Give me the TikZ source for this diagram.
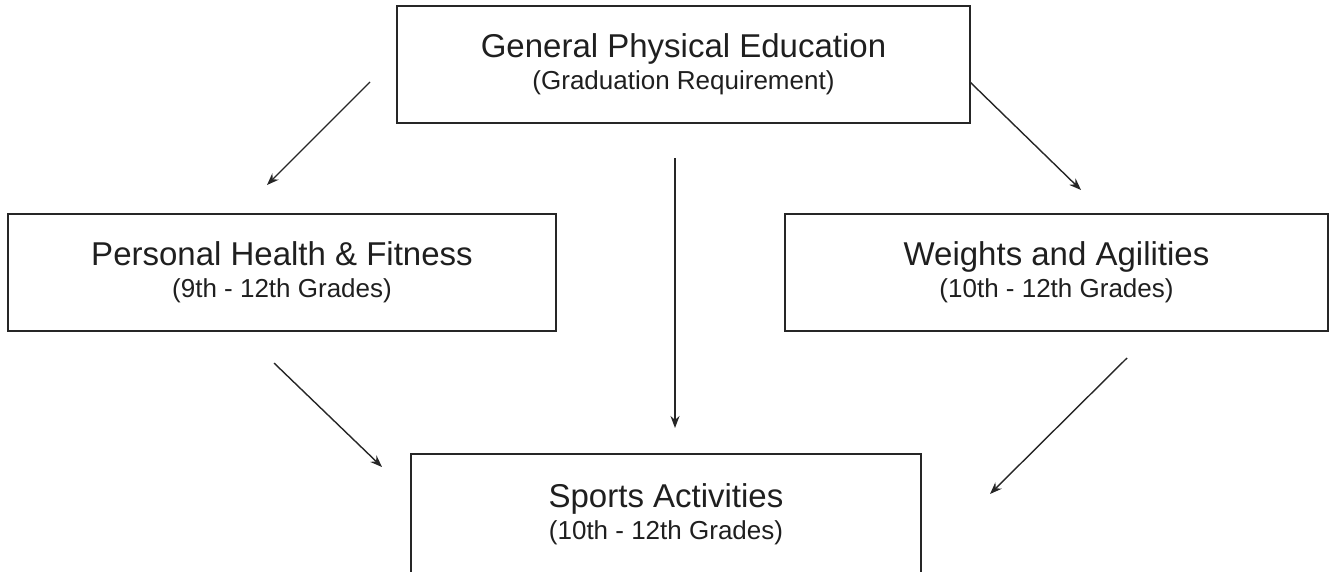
\documentclass[tikz,border=0pt]{standalone}
\usepackage{fontspec}
\setmainfont{Liberation Sans}
\usetikzlibrary{arrows.meta}
\begin{document}
\begin{tikzpicture}[x=1pt,y=-1pt,
  box/.style={draw=black!85,line width=2pt,align=center,inner sep=0pt,
    font=\fontsize{33pt}{32pt}\selectfont,text=black!88},
  conn/.style={draw=black!85,line width=1.4pt,-{Stealth[length=12pt,width=9pt]}},
]
\useasboundingbox (0,0) rectangle (1333,571);
\newcommand{\twoline}[2]{#1\\\fontsize{26pt}{32pt}\selectfont #2}
\node[box,minimum width=573pt,minimum height=117pt] (gpe) at (683.5,64.5)
  {\twoline{General Physical Education}{(Graduation Requirement)}};
\node[box,minimum width=548pt,minimum height=117pt] (phf) at (282,272.5)
  {\twoline{Personal Health \& Fitness}{(9th - 12th Grades)}};
\node[box,minimum width=543pt,minimum height=117pt] (wa) at (1056.5,272.5)
  {\twoline{Weights and Agilities}{(10th - 12th Grades)}};
\node[box,minimum width=510pt,minimum height=120pt] (sa) at (666,514)
  {\twoline{Sports Activities}{(10th - 12th Grades)}};
\coordinate (a1s) at (370,82);  \coordinate (a1e) at (267,185);
\coordinate (a2s) at (970,82);  \coordinate (a2e) at (1081,190);
\coordinate (a3s) at (675,158); \coordinate (a3e) at (675,428);
\coordinate (a4s) at (274,363); \coordinate (a4e) at (382,467);
\coordinate (a5s) at (1127,358);\coordinate (a5e) at (990,494);
\draw[conn] (a1s) -- (a1e);
\draw[conn] (a2s) -- (a2e);
\draw[conn] (a3s) -- (a3e);
\draw[conn] (a4s) -- (a4e);
\draw[conn] (a5s) -- (a5e);
\end{tikzpicture}
\end{document}
